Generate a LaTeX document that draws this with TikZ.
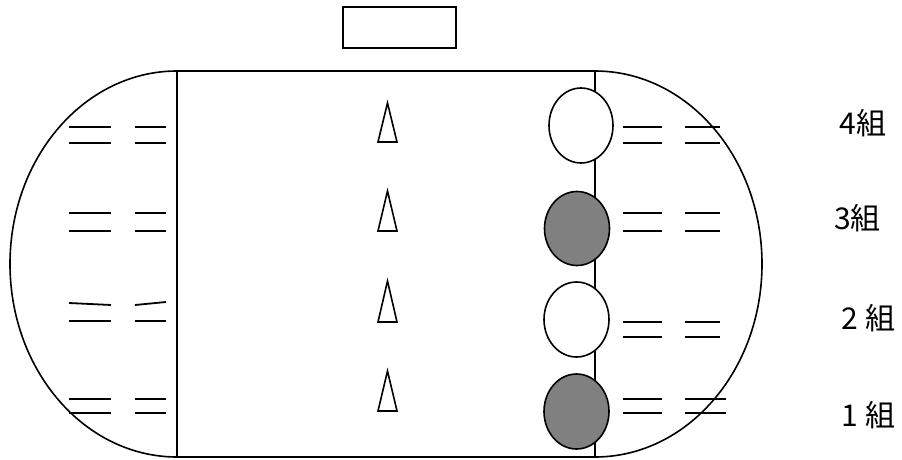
\documentclass[tikz,border=0pt]{standalone}
\usepackage{fontspec}
\newfontfamily\cjk{Noto Sans CJK JP}
\begin{document}
\begin{tikzpicture}[x=1pt,y=-1pt,line width=1.6pt,
  lane/.style={line width=1.8pt},
  cone/.style={line width=1.6pt},
  runner/.style={draw,line width=1.6pt},
  grp/.style={font=\cjk\fontsize{30}{34}\selectfont,inner sep=0pt,anchor=center}]
\useasboundingbox (0,0) rectangle (902,460);
% top box
\node[draw,minimum width=113pt,minimum height=41pt,inner sep=0pt] (box) at (399.5,27.5) {};
% field
\draw (177,71) rectangle (595,457);
\draw (177,71) arc[start angle=-90,end angle=-270,x radius=167,y radius=193];
\draw (595,71) arc[start angle=-90,end angle=90,x radius=167,y radius=193];
% left lane marks
\foreach \a/\b in {127/143,213/231,399/413}{
  \draw[lane] (69,\a) -- (111,\a) (135,\a) -- (166,\a);
  \draw[lane] (69,\b) -- (111,\b) (135,\b) -- (166,\b);
}
\draw[lane] (69,303) -- (111,305) (135,305) -- (166,302);
\draw[lane] (69,321) -- (111,321) (135,321) -- (166,321);
% right lane marks
\foreach \a/\b in {127/143,213/231,322/337}{
  \draw[lane] (623,\a) -- (662,\a) (685,\a) -- (720,\a);
  \draw[lane] (623,\b) -- (662,\b) (685,\b) -- (720,\b);
}
\draw[lane] (623,399) -- (662,399) (685,399) -- (726,399);
\draw[lane] (623,413) -- (662,413) (685,413) -- (726,413);
% cones
\foreach \t/\bt in {103/142,191/231,281/322,371/411}{
  \draw[cone] (387.5,\t) -- (397,\bt) -- (378,\bt) -- cycle;
}
% runners
\draw[runner,fill=white] (581,125.5) ellipse[x radius=32,y radius=37.5];
\draw[runner,fill=gray] (577,228.5) ellipse[x radius=32.5,y radius=37];
\draw[runner,fill=white] (576.5,319.5) ellipse[x radius=32.5,y radius=37.5];
\draw[runner,fill=gray] (576.5,411.5) ellipse[x radius=32.5,y radius=37.5];
% labels
\node[grp] (g4) at (863,123) {4組};
\node[grp] (g3) at (857.5,218) {3組};
\node[grp] (g2) at (868.5,318) {2 組};
\node[grp] (g1) at (868.5,415) {1 組};
\end{tikzpicture}
\end{document}
